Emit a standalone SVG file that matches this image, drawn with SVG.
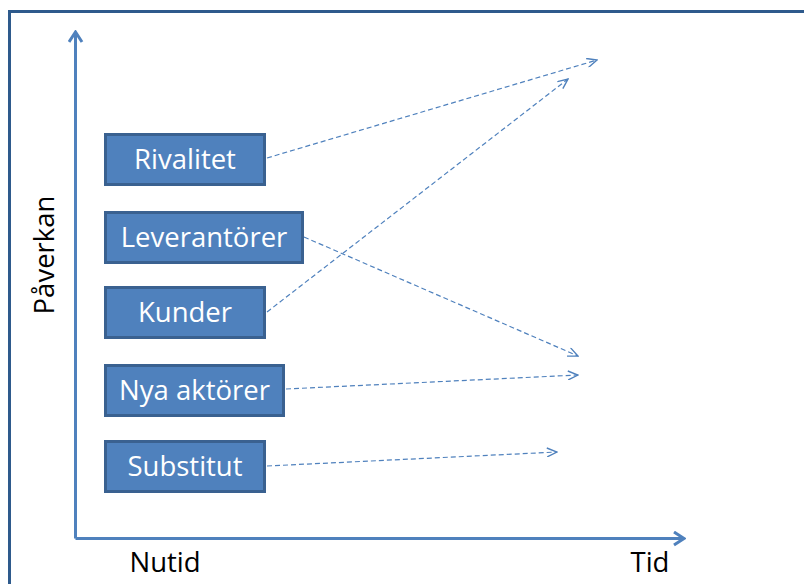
<svg xmlns="http://www.w3.org/2000/svg" width="804" height="584" viewBox="0 0 804 584">
  <style>
    .box { fill: #4f81bd; stroke: #3a6190; stroke-width: 3; }
    .lbl { fill: #ffffff; font-family: "Open Sans", "Liberation Sans", sans-serif; font-size: 27.5px; text-anchor: middle; }
    .axis { fill: none; stroke: #4f81bd; stroke-width: 3; }
    .link { fill: none; stroke: #4f81bd; stroke-width: 1.2; stroke-dasharray: 5 3; }
    .axlbl { fill: #000000; font-family: "Open Sans", "Liberation Sans", sans-serif; font-size: 27.5px; text-anchor: middle; }
  </style>
  <defs>
    <marker id="open" viewBox="0 0 12 10" refX="11" refY="5" markerWidth="12" markerHeight="10" markerUnits="userSpaceOnUse" orient="auto">
      <path d="M1,0.5 L11,5 L1,9.5" fill="none" stroke="#4f81bd" stroke-width="1.4"/>
    </marker>
    <marker id="axhead" viewBox="0 0 14 16" refX="12" refY="8" markerWidth="14" markerHeight="16" markerUnits="userSpaceOnUse" orient="auto">
      <path d="M2,1.5 L12,8 L2,14.5" fill="none" stroke="#4f81bd" stroke-width="3"/>
    </marker>
  </defs>

  <rect width="804" height="584" fill="#ffffff"/>
  <!-- outer frame, open to the right and bottom -->
  <rect x="9.5" y="11.5" width="820" height="600" fill="none" stroke="#2e5a8c" stroke-width="3"/>

  <!-- axes -->
  <g id="axes">
    <path class="axis" d="M75.5,538.5 L75.5,32" marker-end="url(#axhead)"/>
    <path class="axis" d="M75.5,538.5 L684,538.5" marker-end="url(#axhead)"/>
    <text class="axlbl" x="165" y="572">Nutid</text>
    <text class="axlbl" x="650" y="572">Tid</text>
    <text class="axlbl" transform="translate(54,255) rotate(-90)">Påverkan</text>
  </g>

  <g id="connectors">
    <path class="link" d="M267,158 L597,60" marker-end="url(#open)"/>
    <path class="link" d="M304,237 L578,356" marker-end="url(#open)"/>
    <path class="link" d="M267,312 L568,79" marker-end="url(#open)"/>
    <path class="link" d="M286,389 L578,375" marker-end="url(#open)"/>
    <path class="link" d="M267,466 L557,452" marker-end="url(#open)"/>
  </g>

  <g id="rivalitet">
    <rect class="box" x="105.5" y="134.5" width="159" height="50"/>
    <text class="lbl" x="185" y="169">Rivalitet</text>
  </g>
  <g id="leverantorer">
    <rect class="box" x="105.5" y="212.5" width="197" height="50"/>
    <text class="lbl" x="204" y="247">Leverantörer</text>
  </g>
  <g id="kunder">
    <rect class="box" x="105.5" y="287.5" width="159" height="50"/>
    <text class="lbl" x="185" y="322">Kunder</text>
  </g>
  <g id="nya-aktorer">
    <rect class="box" x="105.5" y="365.5" width="178" height="50"/>
    <text class="lbl" x="194.5" y="400">Nya aktörer</text>
  </g>
  <g id="substitut">
    <rect class="box" x="105.5" y="441.5" width="159" height="50"/>
    <text class="lbl" x="185" y="476">Substitut</text>
  </g>
</svg>
